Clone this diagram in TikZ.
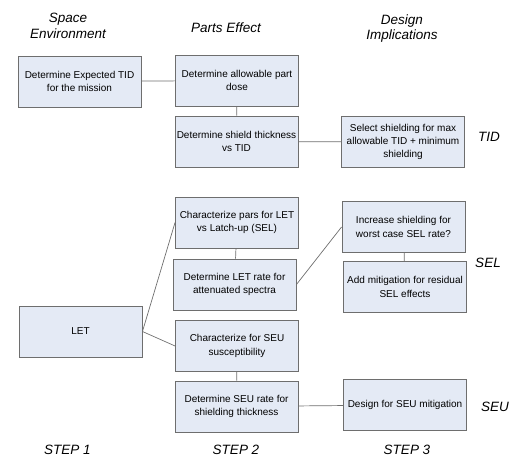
\documentclass[tikz,border=0pt]{standalone}
\usepackage{fontspec}
\setmainfont{Liberation Sans}
\definecolor{boxfill}{HTML}{E4EAF5}
\definecolor{boxline}{HTML}{6E6E6E}
\begin{document}
\begin{tikzpicture}[x=1pt,y=-1pt,
    box/.style={draw=boxline, fill=boxfill, line width=0.9pt, minimum width=123pt,
        minimum height=51pt, align=center, inner sep=1pt,
        font=\fontsize{10}{13.3}\selectfont},
    head/.style={align=center, font=\fontsize{13.5}{15.5}\selectfont\itshape},
    link/.style={draw=boxline, line width=0.7pt}]
    \useasboundingbox (0,0) rectangle (517,470);
    % column headings
    \node[head] (hEnv) at (68,26) {Space\\Environment};
    \node[head] (hParts) at (226,28) {Parts Effect};
    \node[head] (hDesign) at (402,28.5) {Design\\Implications};
    % TID chain
    \node[box] (expTID) at (79.5,81.5) {Determine Expected TID\\for the mission};
    \node[box] (partDose) at (237,80.5) {Determine allowable part\\dose};
    \node[box] (shieldTID) at (236.5,141.5) {Determine shield thickness\\vs TID};
    \node[box] (selShield) at (403,142) {Select shielding for max\\allowable TID + minimum\\shielding};
    % SEL and SEU chains
    \node[box] (parsSEL) at (237,222.5) {Characterize pars for LET\\vs Latch-up (SEL)};
    \node[box] (rateLET) at (234.5,284.5) {Determine LET rate for\\attenuated spectra};
    \node[box] (suscSEU) at (237,346) {Characterize for SEU\\susceptibility};
    \node[box] (rateSEU) at (236.5,406.5) {Determine SEU rate for\\shielding thickness};
    \node[box] (let) at (80.5,331.5) {LET};
    \node[box] (incShield) at (403.5,227) {Increase shielding for\\worst case SEL rate?};
    \node[box] (mitSEL) at (405,287) {Add mitigation for residual\\SEL effects};
    \node[box] (mitSEU) at (405,405) {Design for SEU mitigation};
    % connectors
    \draw[link] (expTID) -- (partDose);
    \draw[link] (partDose) -- (shieldTID);
    \draw[link] (shieldTID) -- (selShield);
    \draw[link] (parsSEL) -- (rateLET);
    \draw[link] (rateLET.east) -- (incShield.west);
    \draw[link] (incShield) -- (mitSEL);
    \draw[link] (let.east) -- (parsSEL.west);
    \draw[link] (let.east) -- (suscSEU.west);
    \draw[link] (suscSEU) -- (rateSEU);
    \draw[link] (rateSEU) -- (mitSEU);
    % row labels
    \node[head] (rTID) at (489,137) {TID};
    \node[head] (rSEL) at (488,263) {SEL};
    \node[head] (rSEU) at (495,407) {SEU};
    \node[head] (s1) at (67.5,450) {STEP 1};
    \node[head] (s2) at (236,450) {STEP 2};
    \node[head] (s3) at (407,450) {STEP 3};
\end{tikzpicture}
\end{document}
